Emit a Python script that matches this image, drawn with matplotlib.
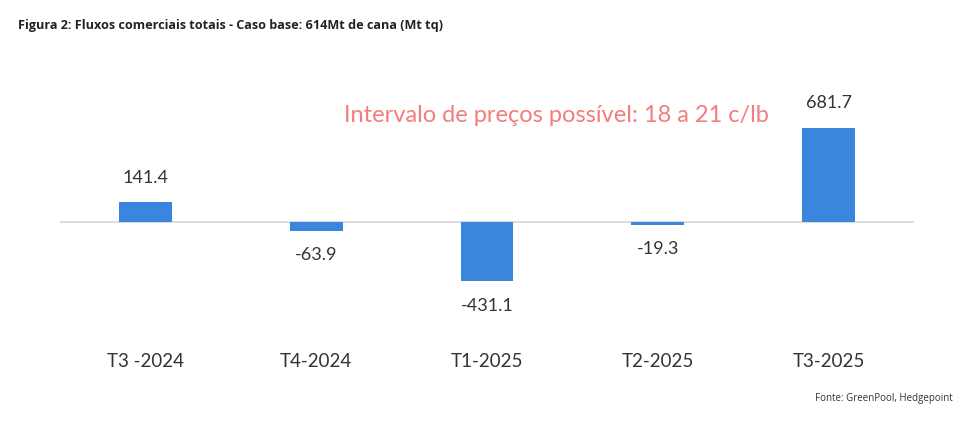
import matplotlib
matplotlib.use("Agg")
import matplotlib.pyplot as plt

# data
categories = ["T3 -2024", "T4-2024", "T1-2025", "T2-2025", "T3-2025"]
values = [141.4, -63.9, -431.1, -19.3, 681.7]
labels = ["141.4", "-63.9", "-431.1", "-19.3", "681.7"]

plt.rcParams["font.family"] = ["Lato", "DejaVu Sans"]

fig = plt.figure(figsize=(9.71, 4.22), dpi=100)
ax = fig.add_axes([60 / 971, 1 - 318.6 / 422, 854 / 971, 228 / 422])

x = range(len(categories))
ax.bar(x, values, width=0.31, color="#3A86DE", zorder=2)
ax.axhline(0, color="#d9d9d9", lw=1.3, zorder=1)

for xi, v, lab in zip(x, values, labels):
    if v >= 0:
        ax.annotate(lab, (xi, v), xytext=(0, 12), textcoords="offset points",
                    ha="center", va="bottom", fontsize=13, color="#333333")
    else:
        ax.annotate(lab, (xi, v), xytext=(0, -12), textcoords="offset points",
                    ha="center", va="top", fontsize=13, color="#333333")

ax.set_xlim(-0.5, 4.5)
ax.set_ylim(-700, 950)
ax.set_xticks(list(x))
ax.set_xticklabels(categories, fontsize=13.5, color="#333333")
ax.tick_params(axis="x", length=0, pad=25)
ax.set_yticks([])
for s in ax.spines.values():
    s.set_visible(False)

fig.text(344 / 971, 1 - 116 / 422, "Intervalo de preços possível: 18 a 21 c/lb",
         fontsize=17, color="#F47C7C", va="center", ha="left")
fig.text(18 / 971, 1 - 25 / 422, "Figura 2: Fluxos comerciais totais - Caso base: 614Mt de cana (Mt tq)",
         fontsize=9.1, fontweight="bold", family=["Open Sans", "DejaVu Sans"],
         color="#222222", va="center", ha="left")
fig.text(953 / 971, 1 - 398 / 422, "Fonte: GreenPool, Hedgepoint",
         fontsize=7, family=["Open Sans", "DejaVu Sans"], color="#333333",
         va="center", ha="right")

fig.savefig("out.png", dpi=100)
